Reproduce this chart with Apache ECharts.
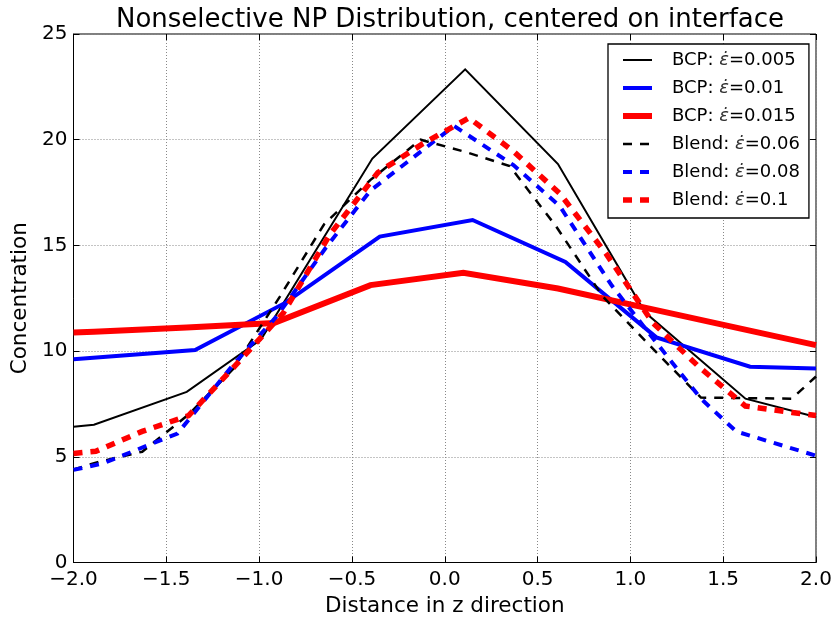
<!DOCTYPE html>
<html>
<head>
<meta charset="utf-8">
<script src="https://cdn.jsdelivr.net/npm/echarts@6/dist/echarts.min.js"></script>
<style>html,body{margin:0;padding:0;background:#fff;}#c{width:835px;height:617px;}</style>
</head>
<body>
<div id="c"></div>
<script>
// ---- data ----
const seriesNames = ['BCP: ε̇=0.005', 'BCP: ε̇=0.01', 'BCP: ε̇=0.015', 'Blend: ε̇=0.06', 'Blend: ε̇=0.08', 'Blend: ε̇=0.1'];

const bcp005X = [-2.0, -1.89, -1.39, -0.99, -0.39, 0.11, 0.61, 1.08, 1.62, 2.0];
const bcp005Y = [6.42, 6.52, 8.07, 10.55, 19.11, 23.33, 18.85, 11.82, 7.75, 6.88];

const bcp01X = [-2.0, -1.345, -0.86, -0.35, 0.15, 0.65, 1.14, 1.645, 2.0];
const bcp01Y = [9.61, 10.05, 12.28, 15.42, 16.2, 14.22, 10.65, 9.26, 9.18];

const bcp015X = [-2.0, -1.89, -1.39, -0.92, -0.40, 0.10, 0.61, 1.09, 1.60, 2.0];
const bcp015Y = [10.88, 10.91, 11.12, 11.33, 13.12, 13.70, 12.96, 12.03, 11.05, 10.28];

const blend006X = [-2.0, -1.87, -1.63, -1.38, -1.14, -0.89, -0.65, -0.40, -0.13, 0.12, 0.35, 0.60, 0.85, 1.10, 1.38, 1.87, 2.0];
const blend006Y = [4.40, 4.75, 5.24, 7.0, 9.15, 12.55, 16.0, 18.1, 20.0, 19.4, 18.75, 15.9, 12.6, 10.3, 7.8, 7.75, 8.8];

const blend008X = [-2.0, -1.84, -1.57, -1.44, -1.14, -0.90, -0.64, -0.40, 0.05, 0.37, 0.62, 0.90, 1.14, 1.38, 1.57, 2.0];
const blend008Y = [4.38, 4.69, 5.65, 6.1, 9.35, 11.7, 14.9, 17.6, 20.65, 18.8, 16.85, 13.1, 10.4, 7.75, 6.2, 5.05];

const blend01X = [-2.0, -1.88, -1.63, -1.38, -1.13, -0.87, -0.62, -0.36, -0.12, 0.13, 0.37, 0.62, 0.87, 1.12, 1.37, 1.62, 1.87, 2.0];
const blend01Y = [5.16, 5.26, 6.2, 6.95, 9.3, 11.8, 15.5, 18.45, 19.8, 21.03, 19.45, 17.45, 14.6, 11.35, 9.25, 7.4, 7.1, 6.95];

const xTicks = [-2.0, -1.5, -1.0, -0.5, 0.0, 0.5, 1.0, 1.5, 2.0];
const yTicks = [0, 5, 10, 15, 20, 25];

// ---- chart ----
const zip = (xs, ys) => xs.map((x, i) => [x, ys[i]]);
const FONT = 'DejaVu Sans';
const dash = [9, 8];

const styles = [
  { color: '#000000', width: 2, type: 'solid' },
  { color: '#0000ff', width: 4, type: 'solid' },
  { color: '#ff0000', width: 6, type: 'solid' },
  { color: '#000000', width: 2.5, type: dash },
  { color: '#0000ff', width: 4, type: dash },
  { color: '#ff0000', width: 5.5, type: dash }
];
const datasets = [
  zip(bcp005X, bcp005Y), zip(bcp01X, bcp01Y), zip(bcp015X, bcp015Y),
  zip(blend006X, blend006Y), zip(blend008X, blend008Y), zip(blend01X, blend01Y)
];

const fmtX = v => (v < 0 ? '\u2212' : '') + Math.abs(v).toFixed(1);

const chart = echarts.init(document.getElementById('c'), null, { renderer: 'canvas' });
const gridLine = { show: true, lineStyle: { color: '#888', width: 1, type: [1, 2] } };
const tick = { show: true, inside: true, length: 6, lineStyle: { color: '#000', width: 1 } };

chart.setOption({
  animation: false,
  backgroundColor: '#fff',
  title: {
    text: 'Nonselective NP Distribution, centered on interface',
    left: 445, top: 2, textAlign: 'center',
    textStyle: { fontFamily: FONT, fontSize: 26, fontWeight: 'normal', color: '#000' }
  },
  grid: { left: 73.5, right: 19, top: 34, bottom: 54.5, show: true, borderColor: '#000', borderWidth: 1,
          backgroundColor: 'transparent', containLabel: false, outerBoundsMode: 'none' },
  legend: {
    orient: 'vertical', left: 608, top: 44,
    itemWidth: 29, itemHeight: 18, itemGap: 10,
    padding: [7, 9, 9, 12],
    borderColor: '#000', borderWidth: 1.3, backgroundColor: '#fff',
    itemStyle: { opacity: 0 },
    data: seriesNames.map((n, i) => ({
      name: n,
      itemStyle: { opacity: 0 },
      lineStyle: { color: styles[i].color, width: styles[i].width, type: styles[i].type, cap: 'butt' }
    })),
    formatter: function (name) {
      const m = name.match(/^(.*?)(ε̇)(=.*)$/);
      return '{n|' + m[1] + '}{e|' + m[2] + '}{n|' + m[3] + '}';
    },
    textStyle: {
      fontFamily: FONT, fontSize: 18, color: '#000', padding: [0, 0, 0, 15],
      rich: {
        n: { fontFamily: FONT, fontSize: 18, color: '#000', lineHeight: 18 },
        e: { fontFamily: FONT, fontSize: 18, color: '#333', fontStyle: 'italic', lineHeight: 18 }
      }
    }
  },
  xAxis: [{
    type: 'value', min: -2, max: 2, interval: 0.5,
    name: 'Distance in z direction', nameLocation: 'middle', nameGap: 33,
    nameTextStyle: { fontFamily: FONT, fontSize: 21.5, color: '#000' },
    axisLine: { show: true, onZero: false, lineStyle: { color: '#000', width: 1 } },
    axisTick: tick,
    axisLabel: { fontFamily: FONT, fontSize: 20, color: '#000', margin: 7, formatter: fmtX },
    splitLine: gridLine
  }, {
    type: 'value', min: -2, max: 2, interval: 0.5, position: 'top',
    axisLine: { show: false, onZero: false }, axisTick: tick, axisLabel: { show: false }, splitLine: { show: false }
  }],
  yAxis: [{
    type: 'value', min: 0, max: 25, interval: 5,
    name: 'Concentration', nameLocation: 'middle', nameGap: 41,
    nameTextStyle: { fontFamily: FONT, fontSize: 21.5, color: '#000' },
    axisLine: { show: true, onZero: false, lineStyle: { color: '#000', width: 1 } },
    axisTick: tick,
    axisLabel: { fontFamily: FONT, fontSize: 20, color: '#000', margin: 6 },
    splitLine: gridLine
  }, {
    type: 'value', min: 0, max: 25, interval: 5, position: 'right',
    axisLine: { show: false, onZero: false }, axisTick: tick, axisLabel: { show: false }, splitLine: { show: false }
  }],
  series: seriesNames.map((n, i) => ({
    name: n, type: 'line', data: datasets[i],
    symbol: 'none', showSymbol: false, smooth: false,
    color: styles[i].color,
    lineStyle: { color: styles[i].color, width: styles[i].width, type: styles[i].type, cap: 'butt', join: 'miter' },
    itemStyle: { color: styles[i].color },
    emphasis: { disabled: true }, z: 2 + i
  }))
});
</script>
</body>
</html>
